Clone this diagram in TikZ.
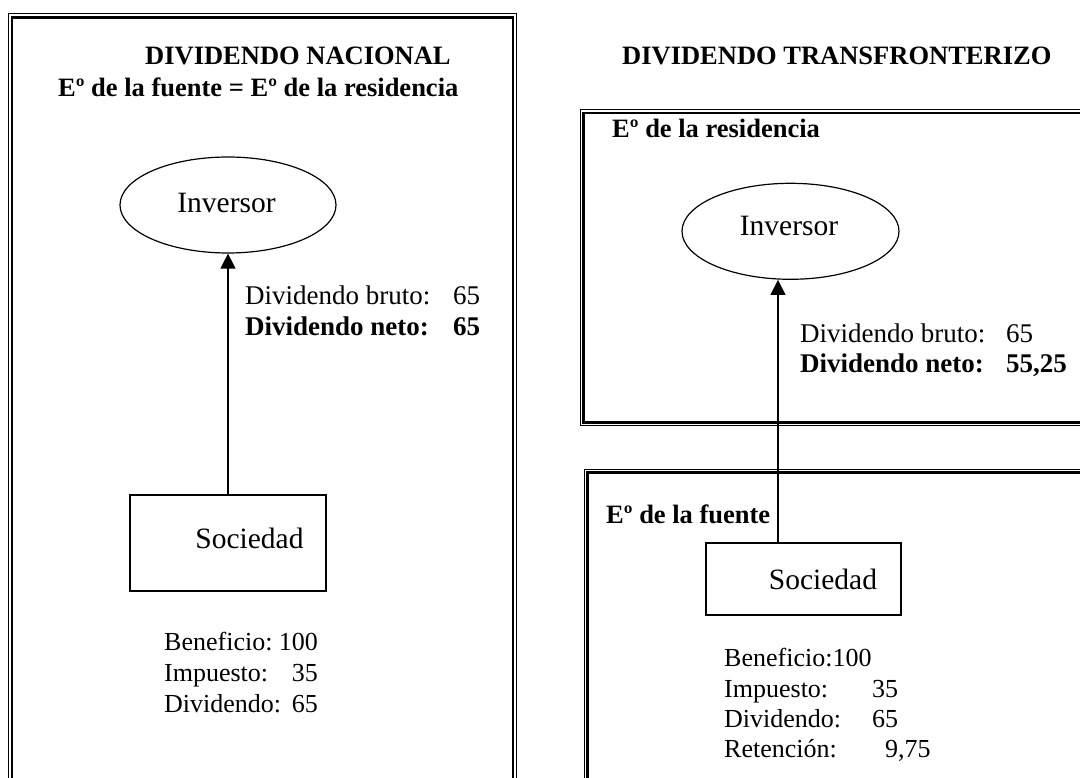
\documentclass[tikz,border=0pt]{standalone}
\usepackage{fontspec}
\setmainfont{Liberation Serif}
\usetikzlibrary{arrows.meta,shapes.geometric}
\tikzset{
  thinframe/.style={line width=1pt},
  thickframe/.style={line width=2.6pt},
  oval/.style={draw,ellipse,line width=1.2pt,inner sep=0pt},
  boxnode/.style={draw,rectangle,line width=1.3pt,inner sep=0pt},
  bigtxt/.style={font=\fontsize{29.5}{33}\selectfont,inner sep=0pt,anchor=base},
  mtxt/.style={font=\fontsize{27}{31}\selectfont,inner sep=0pt,anchor=base west},
  mbtxt/.style={font=\fontsize{27}{31}\selectfont\bfseries,inner sep=0pt,anchor=base west},
  txt/.style={font=\fontsize{26}{30}\selectfont,inner sep=0pt,anchor=base west},
  btxt/.style={font=\fontsize{26.5}{30}\selectfont\bfseries,inner sep=0pt,anchor=base west},
  numr/.style={font=\fontsize{26}{30}\selectfont,inner sep=0pt,anchor=base east},
  flow/.style={line width=1.2pt,-{Triangle[width=15pt,length=15pt]}},
}
\begin{document}
\begin{tikzpicture}[x=1pt,y=-1pt]
\useasboundingbox (0,0) rectangle (1080,778);
\clip (0,0) rectangle (1080,778);
% left frame
\draw[thinframe] (8.5,790) -- (8.5,14) -- (516.5,14) -- (516.5,790);
\draw[thickframe] (12,790) -- (12,17.5) -- (513,17.5) -- (513,790);
% right top frame
\draw[thinframe] (1090,110) -- (580.5,110) -- (580.5,425.5) -- (1090,425.5);
\draw[thickframe] (1090,113) -- (583.5,113) -- (583.5,422.5) -- (1090,422.5);
% right bottom frame
\draw[thinframe] (1090,469.5) -- (584.5,469.5) -- (584.5,790);
\draw[thickframe] (1090,472.5) -- (587.5,472.5) -- (587.5,790);

% left titles
\node[btxt] (t1) at (145,65) {DIVIDENDO NACIONAL};
\node[btxt] (t2) at (58,97) {Eº de la fuente = Eº de la residencia};
% left diagram
\node[oval,minimum width=216pt,minimum height=96pt] (inv1) at (228,205) {};
\node[bigtxt] (inv1t) at (226.5,212.7) {Inversor};
\node[boxnode,minimum width=196pt,minimum height=96pt] (soc1) at (228,543) {};
\node[bigtxt] (soc1t) at (249.5,548) {Sociedad};
\draw[flow] (soc1.north) -- (inv1.south);
\node[mtxt] (b1) at (245,305) {Dividendo bruto:};
\node[mtxt] (b1n) at (453,305) {65};
\node[mbtxt] (n1) at (245,335) {Dividendo neto:};
\node[mbtxt] (n1n) at (453,335) {65};
\node[txt] (l1) at (164,650) {Beneficio:};
\node[numr] (l1n) at (318,650) {100};
\node[txt] (l2) at (164,681) {Impuesto:};
\node[numr] (l2n) at (318,681) {35};
\node[txt] (l3) at (164,712) {Dividendo:};
\node[numr] (l3n) at (318,712) {65};

% right titles
\node[btxt] (t3) at (622,65) {DIVIDENDO TRANSFRONTERIZO};
\node[btxt] (t4) at (612,138) {Eº de la residencia};
\node[btxt] (t5) at (606,523) {Eº de la fuente};
% right diagram
\node[oval,minimum width=217pt,minimum height=96pt] (inv2) at (790.5,231.3) {};
\node[bigtxt] (inv2t) at (789,235.7) {Inversor};
\node[boxnode,minimum width=195pt,minimum height=72pt] (soc2) at (803.5,579) {};
\node[bigtxt] (soc2t) at (823,589) {Sociedad};
\coordinate (ax) at (778,0);
\draw[flow] (ax |- soc2.north) -- (ax |- inv2.south);
\node[mtxt] (b2) at (800,342) {Dividendo bruto:};
\node[mtxt] (b2n) at (1006,342) {65};
\node[mbtxt] (n2) at (800,372) {Dividendo neto:};
\node[mbtxt] (n2n) at (1006,372) {55,25};
\node[txt] (r1) at (724,666) {Beneficio:100};
\node[txt] (r2) at (724,697) {Impuesto:};
\node[txt] (r2n) at (872,697) {35};
\node[txt] (r3) at (724,727) {Dividendo:};
\node[txt] (r3n) at (872,727) {65};
\node[txt] (r4) at (724,757) {Retención:};
\node[txt] (r4n) at (885,757) {9,75};
\end{tikzpicture}
\end{document}
